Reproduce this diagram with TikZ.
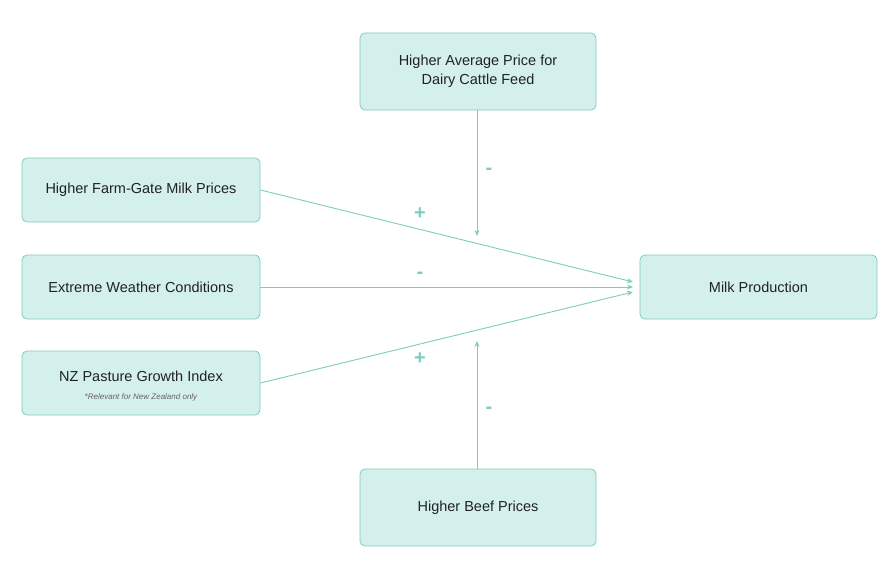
\documentclass[tikz,border=0pt]{standalone}
\usepackage{fontspec}
\setmainfont{Liberation Sans}
\usetikzlibrary{arrows.meta}
\definecolor{bfill}{HTML}{D4F0EC}
\definecolor{bline}{HTML}{7FCBBF}
\definecolor{txt}{HTML}{222222}
\begin{document}
\begin{tikzpicture}[x=1pt,y=-1pt,
 box/.style={draw=bline,fill=bfill,rounded corners=5pt,line width=0.8pt,minimum width=238pt,minimum height=64pt,align=center,text=txt,font=\fontsize{14.5}{19}\selectfont,inner sep=0pt},
 arr/.style={draw=bline,line width=0.9pt,-{Stealth[length=6pt,width=5pt]}},
 sg/.style={text=bline,font=\fontsize{20}{20}\selectfont\bfseries}]
\useasboundingbox (0,0) rectangle (896,564);
\node[box,minimum width=236pt,minimum height=77pt] (feed) at (478,71.5) {Higher Average Price for\\Dairy Cattle Feed};
\node[box] (milkp) at (141,190) {Higher Farm-Gate Milk Prices};
\node[box] (weather) at (141,287) {Extreme Weather Conditions};
\node[box] (nz) at (141,383) {};
\node[text=txt,font=\fontsize{14.5}{17}\selectfont] (nzt) at (141,376) {NZ Pasture Growth Index};
\node[text=txt!70,font=\fontsize{8}{10}\selectfont\itshape] (nzs) at (141,397) {*Relevant for New Zealand only};
\node[box,minimum width=236pt,minimum height=77pt] (beef) at (478,507.5) {Higher Beef Prices};
\node[box,minimum width=237pt] (milk) at (758.5,287) {Milk Production};
\coordinate (t1) at (633,282);
\coordinate (t2) at (633,287);
\coordinate (t3) at (633,292);
\coordinate (tf) at (477,236);
\coordinate (tb) at (477,341);
\draw[arr] (milkp.east) -- (t1);
\draw[arr] (weather.east) -- (t2);
\draw[arr] (nz.east) -- (t3);
\draw[arr] (feed.south -| tf) -- (tf);
\draw[arr] (beef.north -| tb) -- (tb);
\node[sg] (s1) at (420,214) {+};
\node[sg] (s2) at (420,275) {-};
\node[sg] (s3) at (420,359) {+};
\node[sg] (s4) at (489,171) {-};
\node[sg] (s5) at (489,410) {-};
\end{tikzpicture}
\end{document}
